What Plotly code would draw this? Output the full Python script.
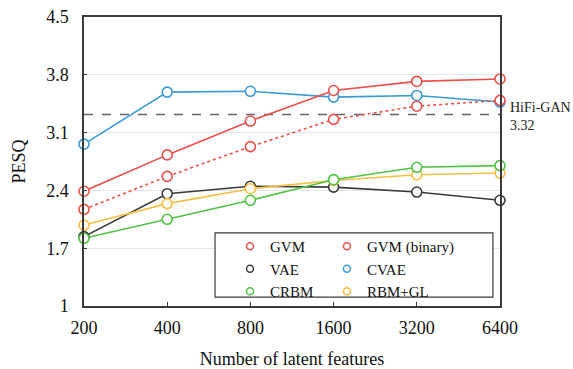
import plotly.graph_objects as go

features = ["200", "400", "800", "1600", "3200", "6400"]
gvm = [2.39, 2.83, 3.24, 3.61, 3.72, 3.75]
gvm_binary = [2.17, 2.57, 2.93, 3.26, 3.42, 3.49]
vae = [1.84, 2.36, 2.45, 2.44, 2.38, 2.28]
cvae = [2.96, 3.59, 3.60, 3.53, 3.55, 3.47]
crbm = [1.82, 2.05, 2.28, 2.53, 2.68, 2.70]
rbm_gl = [1.98, 2.24, 2.42, 2.52, 2.59, 2.61]
hifigan = 3.32
yticks = [1, 1.7, 2.4, 3.1, 3.8, 4.5]
ytick_text = ["1", "1.7", "2.4", "3.1", "3.8", "4.5"]

RED = "#ee4e4a"
BLACK = "#3a3a3a"
GREEN = "#4fc442"
BLUE = "#3a9ad9"
ORANGE = "#f8be40"
FONT = "Liberation Serif, Times New Roman, serif"

series = [
    ("GVM", gvm, RED, "solid", "legend"),
    ("VAE", vae, BLACK, "solid", "legend"),
    ("CRBM", crbm, GREEN, "solid", "legend"),
    ("GVM (binary)", gvm_binary, RED, "dot", "legend2"),
    ("CVAE", cvae, BLUE, "solid", "legend2"),
    ("RBM+GL", rbm_gl, ORANGE, "solid", "legend2"),
]

fig = go.Figure()
draw_order = [4, 1, 5, 2, 3, 0]
for i in draw_order:
    name, vals, color, dash, lg = series[i]
    fig.add_trace(go.Scatter(
        x=features, y=vals, mode="lines+markers", name=name, showlegend=False,
        line=dict(color=color, width=1.6, dash=dash),
        marker=dict(symbol="circle", size=10, color="white",
                    line=dict(color=color, width=1.6)),
        cliponaxis=False,
    ))
for name, vals, color, dash, lg in series:
    fig.add_trace(go.Scatter(
        x=[None], y=[None], mode="markers", name=name, legend=lg,
        marker=dict(symbol="circle", size=7, color="white",
                    line=dict(color=color, width=1.5)),
    ))

fig.add_shape(type="line", xref="paper", yref="y", x0=0, x1=1, y0=hifigan, y1=hifigan,
              line=dict(color="#666666", width=1.5, dash="dash"), layer="below")
fig.add_annotation(xref="paper", yref="y", x=1.02, y=hifigan, xanchor="left", yanchor="middle",
                   text=f"HiFi-GAN<br>{hifigan:.2f}", showarrow=False, align="left",
                   font=dict(family=FONT, size=14, color="#222"), yshift=-2)
fig.add_shape(type="rect", xref="paper", yref="paper", x0=0.315, x1=0.983, y0=0.031, y1=0.253,
              line=dict(color=BLACK, width=1.2), fillcolor="white", layer="above")

fig.update_layout(
    width=573, height=369,
    margin=dict(l=84, r=73, t=17, b=63),
    paper_bgcolor="white", plot_bgcolor="white",
    font=dict(family=FONT, size=18, color="#111"),
    showlegend=True,
    legend=dict(x=0.351, y=0.263, xanchor="left", yanchor="top", bgcolor="rgba(0,0,0,0)",
                font=dict(family=FONT, size=15, color="#111"), tracegroupgap=0, itemwidth=30),
    legend2=dict(x=0.584, y=0.263, xanchor="left", yanchor="top", bgcolor="rgba(0,0,0,0)",
                 font=dict(family=FONT, size=15, color="#111"), tracegroupgap=0, itemwidth=30),
    xaxis=dict(type="category", categoryorder="array", categoryarray=features,
               range=[0, 5], showgrid=False, zeroline=False, automargin=False,
               showline=True, linecolor=BLACK, linewidth=1.5, mirror=True,
               ticks="inside", ticklen=4, tickcolor=BLACK, ticklabelstandoff=5,
               tickfont=dict(family=FONT, size=18, color="#111"),
               title=dict(text="Number of latent features", standoff=16,
                          font=dict(family=FONT, size=18, color="#111"))),
    yaxis=dict(range=[1, 4.5], tickvals=yticks, ticktext=ytick_text, automargin=False,
               showgrid=True, gridcolor="#e6e6e6", gridwidth=1.2, zeroline=False,
               showline=True, linecolor=BLACK, linewidth=1.5, mirror=True,
               ticks="inside", ticklen=3, tickcolor=BLACK, ticklabelstandoff=10,
               tickfont=dict(family=FONT, size=18, color="#111"),
               title=dict(text="PESQ", standoff=16,
                          font=dict(family=FONT, size=18, color="#111"))),
)

fig.write_html("out.html", config={"displayModeBar": False},
               post_script="document.body.style.margin='0';")
